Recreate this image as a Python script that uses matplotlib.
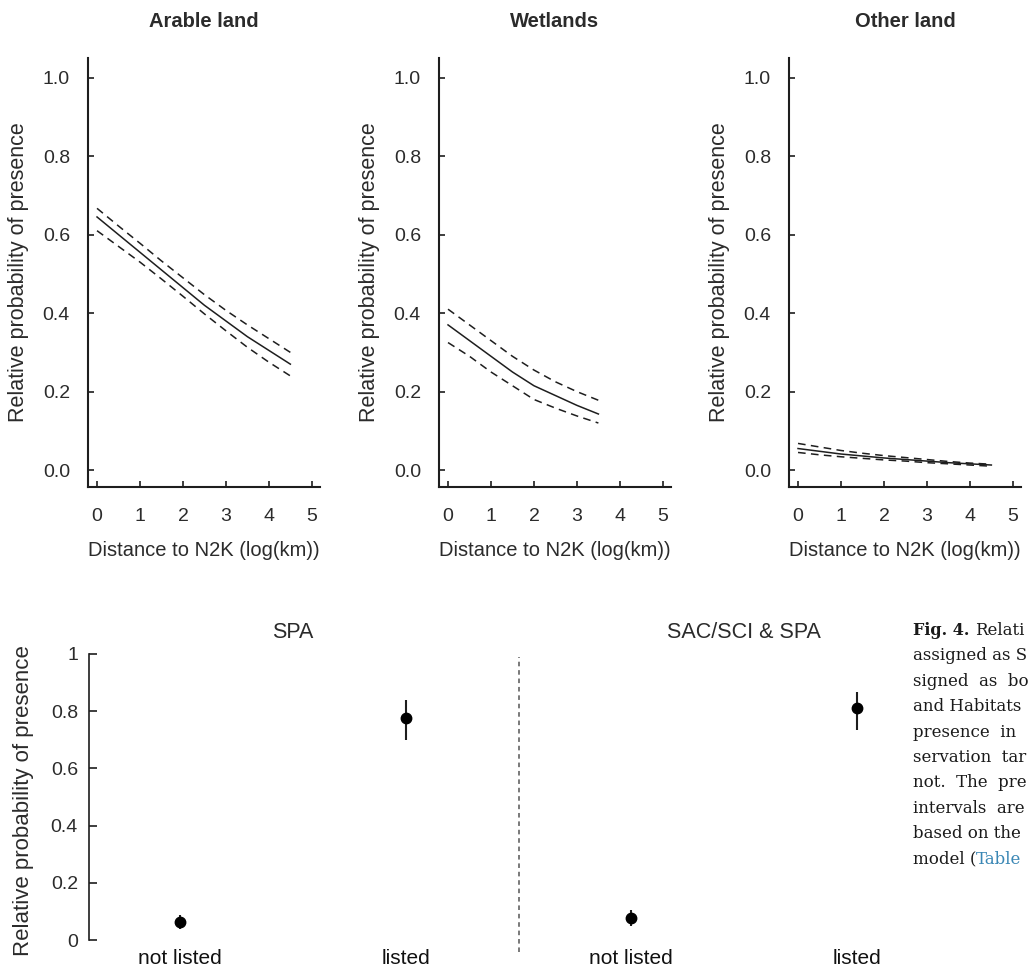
import matplotlib.pyplot as plt
import matplotlib.transforms as mtrans

# top row: predicted relative probability vs distance
dist_arable = [0, 0.5, 1, 1.5, 2, 2.5, 3, 3.5, 4, 4.5]
arable_mean = [0.645, 0.600, 0.555, 0.510, 0.465, 0.420, 0.380, 0.340, 0.305, 0.270]
arable_up = [0.667, 0.622, 0.578, 0.533, 0.490, 0.447, 0.407, 0.370, 0.335, 0.300]
arable_lo = [0.610, 0.570, 0.530, 0.487, 0.443, 0.398, 0.355, 0.313, 0.275, 0.240]

dist_wet = [0, 0.5, 1, 1.5, 2, 2.5, 3, 3.5]
wet_mean = [0.370, 0.330, 0.290, 0.250, 0.215, 0.190, 0.165, 0.143]
wet_up = [0.410, 0.370, 0.330, 0.290, 0.255, 0.225, 0.200, 0.178]
wet_lo = [0.325, 0.290, 0.250, 0.215, 0.180, 0.158, 0.138, 0.120]

dist_other = [0, 0.5, 1, 1.5, 2, 2.5, 3, 3.5, 4, 4.5]
other_mean = [0.055, 0.048, 0.041, 0.036, 0.031, 0.027, 0.023, 0.019, 0.016, 0.013]
other_up = [0.068, 0.059, 0.050, 0.043, 0.037, 0.032, 0.027, 0.022, 0.018, 0.015]
other_lo = [0.045, 0.039, 0.034, 0.030, 0.026, 0.023, 0.019, 0.016, 0.013, 0.010]

panel_titles = ["Arable land", "Wetlands", "Other land"]
x_ticks = [0, 1, 2, 3, 4, 5]
y_ticks = [0.0, 0.2, 0.4, 0.6, 0.8, 1.0]

# bottom row: listed / not listed
cat_labels = ["not listed", "listed", "not listed", "listed"]
cat_mean = [0.063, 0.776, 0.077, 0.810]
cat_lo = [0.040, 0.700, 0.050, 0.734]
cat_up = [0.087, 0.840, 0.105, 0.867]
group_titles = ["SPA", "SAC/SCI & SPA"]
bottom_ticks = [0, 0.2, 0.4, 0.6, 0.8, 1]

caption_lines = ["assigned as SPA", "signed  as  both", "and Habitats Directive",
                 "presence  in  N2K", "servation  target", "not.  The  predicted",
                 "intervals  are  shown", "based on the estimated"]

ink = "#1e1e1e"
txt = "#2b2b2b"
sans = "Liberation Sans"

W, H = 1030, 973
fig = plt.figure(figsize=(W / 100, H / 100), dpi=100)

lefts = [88, 439, 789]
series = [(dist_arable, arable_mean, arable_up, arable_lo),
          (dist_wet, wet_mean, wet_up, wet_lo),
          (dist_other, other_mean, other_up, other_lo)]

for k in range(3):
    ax = fig.add_axes([lefts[k] / W, 1 - 487 / H, 232 / W, (487 - 58) / H])
    d, m, up, lo = series[k]
    ax.plot(d, m, color=ink, lw=1.1)
    ax.plot(d, up, color=ink, lw=1.1, dashes=(5, 3.5))
    ax.plot(d, lo, color=ink, lw=1.1, dashes=(5, 3.5))
    ax.set_xlim(-0.21, 5.19)
    ax.set_ylim(-0.043, 1.05)
    ax.set_xticks(x_ticks)
    ax.set_yticks(y_ticks)
    ax.set_yticklabels([f"{v:.1f}" for v in y_ticks])
    for s in ["top", "right"]:
        ax.spines[s].set_visible(False)
    for s in ["left", "bottom"]:
        ax.spines[s].set_linewidth(1.5)
        ax.spines[s].set_color(ink)
    ax.tick_params(direction="in", length=4, width=1.2, color=ink,
                   labelsize=14, labelcolor=txt)
    ax.tick_params(axis="y", pad=13)
    ax.tick_params(axis="x", pad=15)
    for lab in ax.get_xticklabels() + ax.get_yticklabels():
        lab.set_fontfamily(sans)
    ax.set_xlabel("Distance to N2K (log(km))", fontsize=14.5, color=txt, family=sans)
    ax.set_ylabel("Relative probability of presence", fontsize=15.5, color=txt, family=sans)
    ax.xaxis.set_label_coords(0.5, -0.125)
    ax.yaxis.set_label_coords(-0.255, 0.5)
    ax.text(0.5, 1.084, panel_titles[k], transform=ax.transAxes, ha="center",
            va="center", fontsize=14.5, fontweight="bold", color=txt, family=sans)

# bottom panel
bx = fig.add_axes([89 / W, 1 - 953 / H, (948 - 89) / W, (953 - 648) / H])
pos = list(range(len(cat_labels)))
err = [[m - l for m, l in zip(cat_mean, cat_lo)], [u - m for m, u in zip(cat_mean, cat_up)]]
bx.errorbar(pos, cat_mean, yerr=err, fmt="o", color="black", ecolor=ink,
            elinewidth=1.5, markersize=7.5, capsize=0)
bx.set_xlim(-0.403, 3.403)
bx.set_ylim(-0.045, 1.02)
bx.vlines(1.5, -0.04, 0.99, colors="#555555", linestyles=(0, (3, 2.5)), lw=1.1)
for s in ["top", "right", "bottom"]:
    bx.spines[s].set_visible(False)
bx.spines["left"].set_bounds(0, 1)
bx.spines["left"].set_linewidth(1.2)
bx.spines["left"].set_color(ink)
bx.set_yticks(bottom_ticks)
bx.set_yticklabels([f"{v:g}" for v in bottom_ticks])
bx.set_xticks(pos)
bx.set_xticklabels(cat_labels)
bx.tick_params(axis="y", direction="in", length=6, width=1.2, color=ink,
               labelsize=14, labelcolor=txt, pad=8)
bx.tick_params(axis="x", length=0, labelsize=15, labelcolor="#111111", pad=-3)
for lab in bx.get_xticklabels() + bx.get_yticklabels():
    lab.set_fontfamily(sans)
bx.set_ylabel("Relative probability of presence", fontsize=16, color=txt, family=sans)
bx.yaxis.set_label_coords(-0.064, 0.5)
tr = mtrans.blended_transform_factory(bx.transData, bx.transAxes)
bx.text(0.5, 1.052, group_titles[0], transform=tr, ha="center", va="center",
        fontsize=15.5, color=txt, family=sans)
bx.text(2.5, 1.052, group_titles[1], transform=tr, ha="center", va="center",
        fontsize=15.5, color=txt, family=sans)

# caption, cut at the right edge like the source page
serif = "DejaVu Serif"
cfs = 12
cx = 913 / W
base = [635 + 25.4 * i for i in range(10)]
fig.canvas.draw()


def fit_text(x, y, s, **kw):
    t = fig.text(x, y, s, **kw)
    while len(s) > 1 and t.get_window_extent().x1 > W - 1:
        s = s[:-1].rstrip()
        t.set_text(s)
    return t


fig.text(cx, 1 - base[0] / H, "Fig. 4.", fontsize=11.5, fontweight="bold",
         family=serif, color="#1a1a1a", va="baseline")
fit_text(975 / W, 1 - base[0] / H, "Relative probability", fontsize=cfs,
         family=serif, color="#1a1a1a", va="baseline")
for i, line in enumerate(caption_lines):
    fit_text(cx, 1 - base[i + 1] / H, line, fontsize=cfs, family=serif,
             color="#1a1a1a", va="baseline")
t = fig.text(cx, 1 - base[9] / H, "model (", fontsize=cfs, family=serif,
             color="#1a1a1a", va="baseline")
bb = t.get_window_extent()
fit_text(bb.x1 / W, 1 - base[9] / H, "Tables", fontsize=cfs, family=serif,
         color="#3a87b5", va="baseline")

fig.savefig("out.png", dpi=100)
